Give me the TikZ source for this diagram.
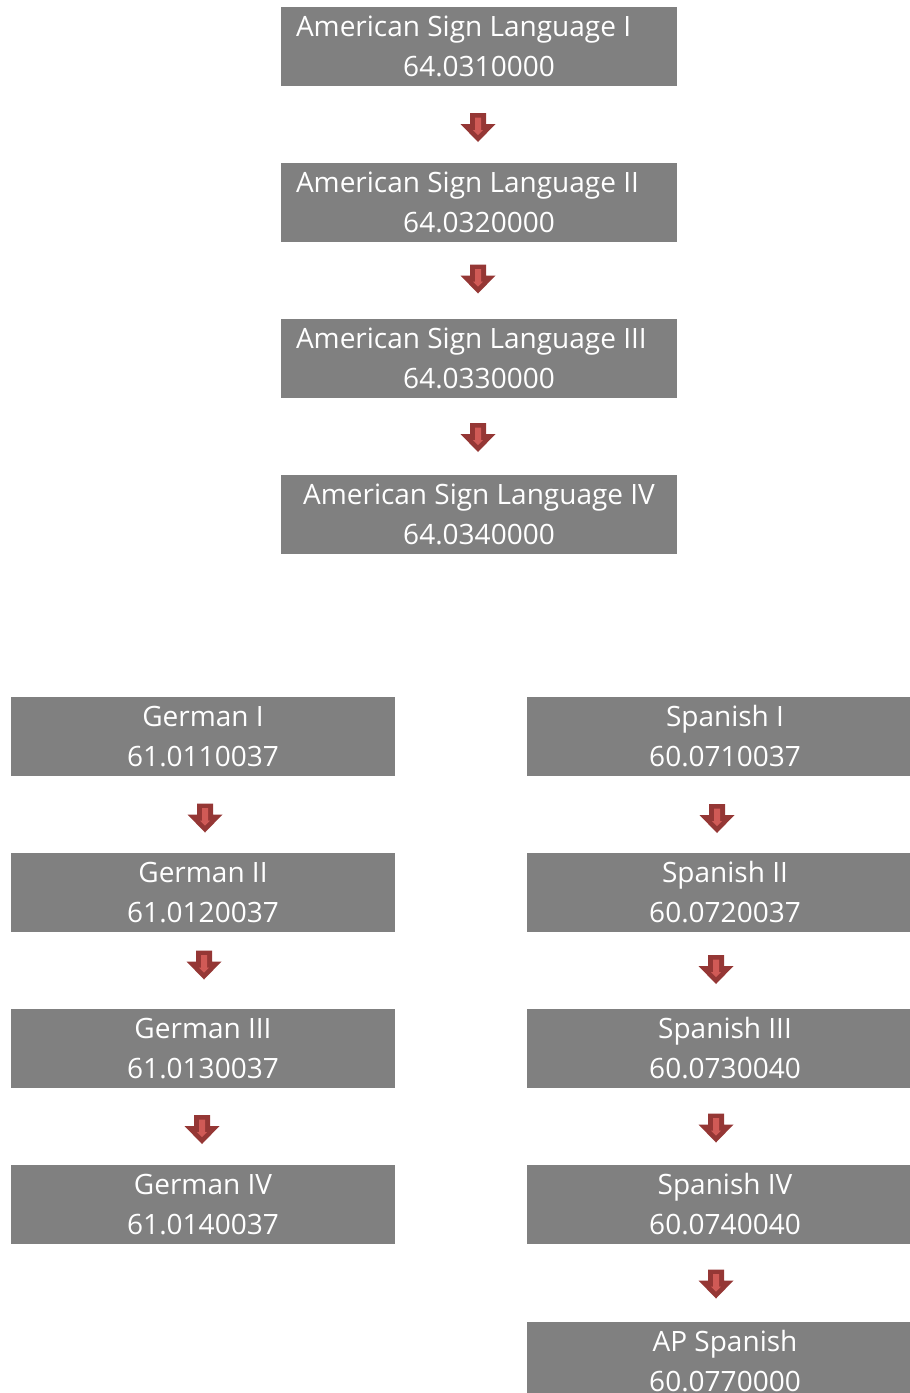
\documentclass[tikz,border=0pt]{standalone}
\usepackage{fontspec}
\setmainfont{Open Sans}
\usetikzlibrary{calc}
\definecolor{boxgray}{RGB}{128,128,128}
\definecolor{arrowdark}{RGB}{149,55,53}
\definecolor{arrowlight}{RGB}{208,90,86}
\tikzset{
  course/.style={draw=none, fill=boxgray, minimum height=79pt, inner sep=0pt, outer sep=0pt},
  aslbox/.style={course, minimum width=396pt},
  gerbox/.style={course, minimum width=384pt},
  spabox/.style={course, minimum width=396pt},
  label/.style={text=white, font=\fontsize{28}{40}\selectfont, inner sep=0pt, outer sep=0pt},
  blockarrow/.style={fill=arrowdark, draw=none},
  innerarrow/.style={fill=arrowlight, draw=none},
}
% block arrow pointing down, with its lighter inner highlight
\newcommand{\flowarrow}[3]{%
  \coordinate (#1) at (#2,#3);
  \path[blockarrow] ($(#1)+(-8,-14.5)$) -- ($(#1)+(8,-14.5)$) -- ($(#1)+(8,-3.5)$)
    -- ($(#1)+(17.5,-3.5)$) -- ($(#1)+(0,14.5)$) -- ($(#1)+(-17.5,-3.5)$)
    -- ($(#1)+(-8,-3.5)$) -- cycle;
  \path[innerarrow] ($(#1)+(-3,-10)$) -- ($(#1)+(3,-10)$) -- ($(#1)+(3,2.5)$)
    -- ($(#1)+(5,2.5)$) -- ($(#1)+(0,7.5)$) -- ($(#1)+(-5,2.5)$)
    -- ($(#1)+(-3,2.5)$) -- cycle;
}
% course box: style, name, centre x, top y, first line, second line
\newcommand{\coursebox}[6]{%
  \node[#1] (#2) at (#3,#4+39.5) {};
  \node[label, anchor=base] (#2-a) at ($(#2.north)+(0,29)$) {#5};
  \node[label, anchor=base] (#2-b) at ($(#2.north)+(0,69)$) {#6};
}
\begin{document}
\begin{tikzpicture}[x=1pt,y=-1pt]
\useasboundingbox (0,0) rectangle (910,1393);

% American Sign Language sequence (first line set flush left in I--III)
\node[aslbox] (asl1) at (479,46.5) {};
\node[label, anchor=base west] (asl1-a) at ($(asl1.north west)+(15,29)$) {American Sign Language I};
\node[label, anchor=base] (asl1-b) at ($(asl1.north)+(0,69)$) {64.0310000};
\node[aslbox] (asl2) at (479,202.5) {};
\node[label, anchor=base west] (asl2-a) at ($(asl2.north west)+(15,29)$) {American Sign Language II};
\node[label, anchor=base] (asl2-b) at ($(asl2.north)+(0,69)$) {64.0320000};
\node[aslbox] (asl3) at (479,358.5) {};
\node[label, anchor=base west] (asl3-a) at ($(asl3.north west)+(15,29)$) {American Sign Language III};
\node[label, anchor=base] (asl3-b) at ($(asl3.north)+(0,69)$) {64.0330000};
\coursebox{aslbox}{asl4}{479}{475}{American Sign Language IV}{64.0340000}

\flowarrow{aa1}{478}{127.5}
\flowarrow{aa2}{478}{279}
\flowarrow{aa3}{478}{437.5}

% German sequence
\coursebox{gerbox}{ger1}{203}{697}{German I}{61.0110037}
\coursebox{gerbox}{ger2}{203}{853}{German II}{61.0120037}
\coursebox{gerbox}{ger3}{203}{1009}{German III}{61.0130037}
\coursebox{gerbox}{ger4}{203}{1165}{German IV}{61.0140037}

\flowarrow{ga1}{205}{818}
\flowarrow{ga2}{204}{965}
\flowarrow{ga3}{202}{1129.5}

% Spanish sequence
\coursebox{spabox}{spa1}{725}{697}{Spanish I}{60.0710037}
\coursebox{spabox}{spa2}{725}{853}{Spanish II}{60.0720037}
\coursebox{spabox}{spa3}{725}{1009}{Spanish III}{60.0730040}
\coursebox{spabox}{spa4}{725}{1165}{Spanish IV}{60.0740040}
\coursebox{spabox}{spa5}{725}{1322}{AP Spanish}{60.0770000}

\flowarrow{sa1}{717}{818.5}
\flowarrow{sa2}{716}{969.5}
\flowarrow{sa3}{716}{1128}
\flowarrow{sa4}{716}{1284}
\end{tikzpicture}
\end{document}
